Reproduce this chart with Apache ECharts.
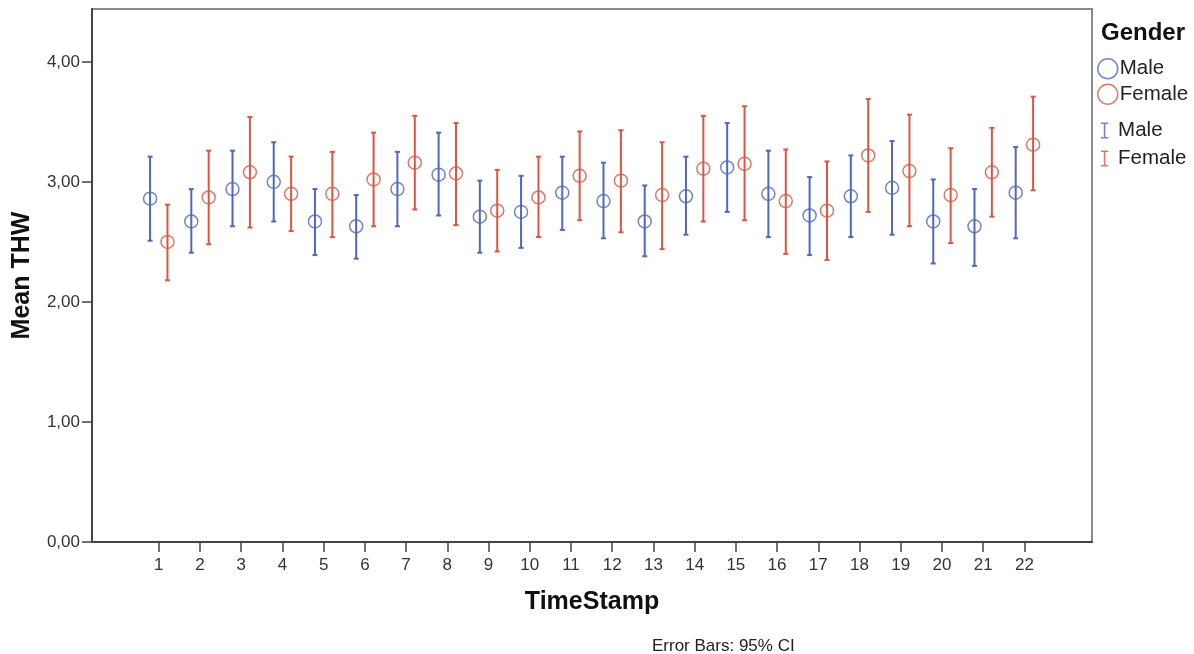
<!DOCTYPE html>
<html>
<head>
<meta charset="utf-8">
<script src="https://cdn.jsdelivr.net/npm/echarts@6/dist/echarts.min.js"></script>
<style>
html,body{margin:0;padding:0;background:#fff;}
#chart{width:1194px;height:654px;}
</style>
</head>
<body>
<div id="chart"></div>
<script>
const timeStamps = [1,2,3,4,5,6,7,8,9,10,11,12,13,14,15,16,17,18,19,20,21,22];
const yTicks = [0,1,2,3,4];
const maleMean   = [2.86,2.67,2.94,3.00,2.67,2.63,2.94,3.06,2.71,2.75,2.91,2.84,2.67,2.88,3.12,2.90,2.72,2.88,2.95,2.67,2.63,2.91];
const maleLow    = [2.51,2.41,2.63,2.67,2.39,2.36,2.63,2.72,2.41,2.45,2.60,2.53,2.38,2.56,2.75,2.54,2.39,2.54,2.56,2.32,2.30,2.53];
const maleHigh   = [3.21,2.94,3.26,3.33,2.94,2.89,3.25,3.41,3.01,3.05,3.21,3.16,2.97,3.21,3.49,3.26,3.04,3.22,3.34,3.02,2.94,3.29];
const femaleMean = [2.50,2.87,3.08,2.90,2.90,3.02,3.16,3.07,2.76,2.87,3.05,3.01,2.89,3.11,3.15,2.84,2.76,3.22,3.09,2.89,3.08,3.31];
const femaleLow  = [2.18,2.48,2.62,2.59,2.54,2.63,2.77,2.64,2.42,2.54,2.68,2.58,2.44,2.67,2.68,2.40,2.35,2.75,2.63,2.49,2.71,2.93];
const femaleHigh = [2.81,3.26,3.54,3.21,3.25,3.41,3.55,3.49,3.10,3.21,3.42,3.43,3.33,3.55,3.63,3.27,3.17,3.69,3.56,3.28,3.45,3.71];

const MALE_COLOR = '#4e67c0';
const FEMALE_COLOR = '#df5440';
const FONT = '"Liberation Sans", Arial, sans-serif';
const OFF = 8.7;

function pairs(xs, ys){ return xs.map((x,i)=>[x, ys[i]]); }
function triples(xs, lo, hi){ return xs.map((x,i)=>[x, lo[i], hi[i]]); }

function errRender(color, off){
  return function(params, api){
    const x = api.value(0), lo = api.value(1), hi = api.value(2);
    const p1 = api.coord([x, lo]), p2 = api.coord([x, hi]);
    const cx = p1[0] + off;
    const st = {stroke: color, lineWidth: 2};
    return {type:'group', children:[
      {type:'line', shape:{x1:cx, y1:p1[1], x2:cx, y2:p2[1]}, style:st},
      {type:'line', shape:{x1:cx-2.5, y1:p1[1], x2:cx+2.5, y2:p1[1]}, style:st},
      {type:'line', shape:{x1:cx-2.5, y1:p2[1], x2:cx+2.5, y2:p2[1]}, style:st}
    ]};
  };
}

const IBAR = 'path://M0,0H9V2H5.5V18H9V20H0V18H3.5V2H0Z';

const chart = echarts.init(document.getElementById('chart'));
chart.setOption({
  animation: false,
  backgroundColor: '#fff',
  textStyle: {fontFamily: FONT},
  title: [
    {text: 'Gender', left: 1101, top: 21, textStyle:{fontFamily: FONT, fontSize: 24, fontWeight:'bold', color:'#111'}, padding:0},
    {text: 'Error Bars: 95% CI', left: 652, top: 638, textStyle:{fontFamily: FONT, fontSize: 17, fontWeight:'normal', color:'#222'}, padding:0}
  ],
  legend: [
    {orient:'vertical', left: 1097, top: 58, padding: 0, itemWidth: 20, itemHeight: 20, itemGap: 4,
     selectedMode: false,
     textStyle:{fontFamily: FONT, fontSize: 20.5, color:'#222', padding:[0,0,0,-3]},
     data:[{name:'Male', icon:'circle', itemStyle:{color:'transparent', borderColor:MALE_COLOR, borderWidth:1.5}},
           {name:'Female', icon:'circle', itemStyle:{color:'transparent', borderColor:FEMALE_COLOR, borderWidth:1.5}}]},
    {orient:'vertical', left: 1101, top: 120, padding: 0, itemWidth: 9, itemHeight: 16, itemGap: 7,
     selectedMode: false,
     textStyle:{fontFamily: FONT, fontSize: 20.5, color:'#222', padding:[0,0,0,4]},
     data:[{name:'Male', icon:IBAR, itemStyle:{color:MALE_COLOR, borderWidth:0}},
           {name:'Female', icon:IBAR, itemStyle:{color:FEMALE_COLOR, borderWidth:0}}]}
  ],
  grid: {left: 92, top: 9, right: 102, bottom: 112, show: true, borderColor: '#8a8a8a', borderWidth: 2, backgroundColor:'#fff'},
  xAxis: {
    type: 'value', min: -0.62, max: 23.64,
    name: 'TimeStamp', nameLocation: 'middle', nameGap: 48,
    nameTextStyle: {fontFamily: FONT, fontSize: 25, fontWeight: 'bold', color:'#111'},
    axisLine: {show: true, onZero: false, lineStyle: {color: '#444', width: 2}},
    axisTick: {show: true, length: 10, customValues: timeStamps, lineStyle:{color:'#444', width:1.5}},
    axisLabel: {customValues: timeStamps, fontFamily: FONT, fontSize: 17, color:'#333', margin: 15},
    splitLine: {show: false}
  },
  yAxis: {
    type: 'value', min: 0, max: 4.44,
    name: 'Mean THW', nameLocation: 'middle', nameGap: 57, nameRotate: 90,
    nameTextStyle: {fontFamily: FONT, fontSize: 25, fontWeight: 'bold', color:'#111'},
    axisLine: {show: true, onZero: false, lineStyle: {color: '#444', width: 2}},
    axisTick: {show: true, length: 10, customValues: yTicks, lineStyle:{color:'#444', width:1.5}},
    axisLabel: {customValues: yTicks, fontFamily: FONT, fontSize: 17, color:'#333', margin: 12,
      formatter: v => v.toFixed(2).replace('.', ',')},
    splitLine: {show: false}
  },
  series: [
    {name:'Male', type:'scatter', data: pairs(timeStamps, maleMean), symbol:'circle', symbolSize: 13,
     symbolOffset:[-OFF,0], itemStyle:{color:'transparent', borderColor:MALE_COLOR, borderWidth:1.5}, z: 3},
    {name:'Female', type:'scatter', data: pairs(timeStamps, femaleMean), symbol:'circle', symbolSize: 13,
     symbolOffset:[OFF,0], itemStyle:{color:'transparent', borderColor:FEMALE_COLOR, borderWidth:1.5}, z: 3},
    {name:'Male', type:'custom', data: triples(timeStamps, maleLow, maleHigh), renderItem: errRender(MALE_COLOR, -OFF),
     itemStyle:{color:MALE_COLOR}, encode:{x:0, y:[1,2]}, z: 2},
    {name:'Female', type:'custom', data: triples(timeStamps, femaleLow, femaleHigh), renderItem: errRender(FEMALE_COLOR, OFF),
     itemStyle:{color:FEMALE_COLOR}, encode:{x:0, y:[1,2]}, z: 2}
  ]
});
</script>
</body>
</html>
